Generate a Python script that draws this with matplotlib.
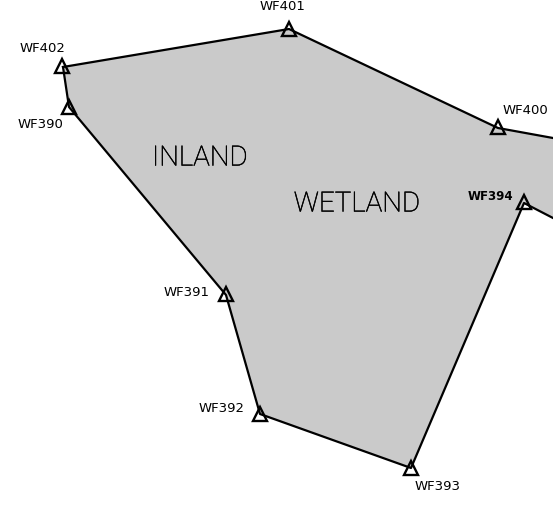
import matplotlib
matplotlib.use('Agg')
import matplotlib.pyplot as plt
import matplotlib.patheffects as pe
from matplotlib.patches import Polygon

# station positions (image pixels)
stations = ['WF402', 'WF401', 'WF400', 'WF394', 'WF393', 'WF392', 'WF391', 'WF390']
station_x = [62, 289, 498, 524, 411, 260, 226, 69]
station_y = [66, 29, 127, 202, 468, 414, 294, 107]

label_x = [42, 282, 525, 490, 438, 222, 187, 41]
label_y = [48, 6, 111, 196, 487, 408, 293, 124]

# wetland outline, runs off the right edge
outline_x = [63, 289, 498, 553, 553, 524, 411, 260, 226, 69]
outline_y = [67, 29, 128, 138, 218, 203, 468, 414, 295, 107]

areas = ['INLAND', 'WETLAND']
area_x = [200, 357]
area_y = [158, 204]

fig = plt.figure(figsize=(5.53, 5.08), dpi=100)
ax = fig.add_axes([0, 0, 1, 1])
ax.set_xlim(0, 553)
ax.set_ylim(508, 0)
ax.axis('off')

ax.add_patch(Polygon(list(zip(outline_x, outline_y)), closed=False, facecolor='#cacaca',
                     edgecolor='none', zorder=1))

# edge lines, the cut at the right border stays open
ax.plot(outline_x[:4], outline_y[:4], color='black', lw=1.6, zorder=2)
ax.plot(outline_x[4:] + outline_x[:1], outline_y[4:] + outline_y[:1], color='black', lw=1.6, zorder=2)

ax.plot(station_x, station_y, ls='none', marker='^', ms=9.5, mfc='none', mec='black', mew=1.7, zorder=3)

for name, x, y in zip(stations, label_x, label_y):
    weight = 'bold' if name == 'WF394' else 'normal'
    size = 8.5 if name == 'WF394' else 9.5
    ax.text(x, y, name, fontsize=size, family='DejaVu Sans', weight=weight, ha='center', va='center', color='black')

# thin font looks too faint on the grey, so darken it with a hairline
for name, x, y in zip(areas, area_x, area_y):
    ax.text(x, y, name, fontsize=20, family='Roboto', weight='light', ha='center', va='center', color='black',
            path_effects=[pe.withStroke(linewidth=0.35, foreground='black')])

fig.savefig('out.png', dpi=100)
plt.close()
